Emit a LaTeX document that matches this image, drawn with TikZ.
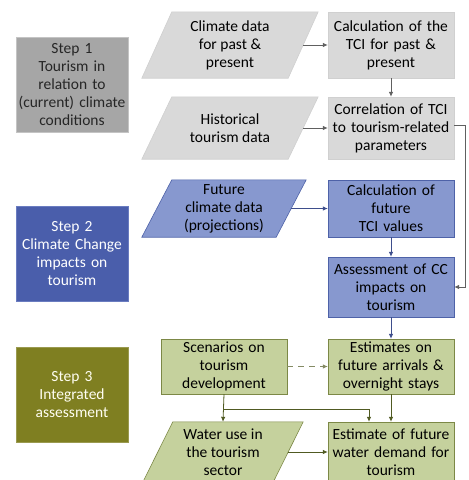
\documentclass[tikz,border=0pt]{standalone}
\usepackage{fontspec}
\setmainfont{Carlito}
\usetikzlibrary{arrows.meta,backgrounds}
\definecolor{gfill}{HTML}{D9D9D9}
\definecolor{gline}{HTML}{D0D0D0}
\definecolor{garr}{HTML}{606060}
\definecolor{bfill}{HTML}{8798CF}
\definecolor{bline}{HTML}{4E62A8}
\definecolor{barr}{HTML}{3E4E8C}
\definecolor{ofill}{HTML}{C5D19D}
\definecolor{oline}{HTML}{7C8846}
\definecolor{oarr}{HTML}{505A22}
\definecolor{sone}{HTML}{A6A6A6}
\definecolor{sonel}{HTML}{C4C4C4}
\definecolor{stwo}{HTML}{4A5EAB}
\definecolor{stwol}{HTML}{6A7CC0}
\definecolor{sthree}{HTML}{7F7F21}
\definecolor{sthreel}{HTML}{9A9A50}
\begin{document}
\begin{tikzpicture}[x=1pt,y=-1pt,
  txt/.style={font=\fontsize{15.5}{18}\selectfont, align=center, inner sep=0pt},
  rbox/.style={txt, draw, minimum width=126pt, text width=124pt},
  pbox/.style={txt, minimum width=146pt},
  stepbox/.style={txt, minimum width=112pt, minimum height=95pt, text width=110pt},
  garrow/.style={draw=garr, line width=0.8pt, -{Latex[length=5pt,width=4.5pt]}},
  barrow/.style={draw=barr, line width=0.8pt, -{Latex[length=5pt,width=4.5pt]}},
  oarrow/.style={draw=oarr, line width=0.8pt, -{Latex[length=5pt,width=4.5pt]}}
]
\useasboundingbox (0,0) rectangle (469,480);
\clip (0,0) rectangle (469,480);

% step boxes
\node[stepbox, fill=sone, draw=sonel, text=black!85] (s1) at (72,85) {Step 1\\Tourism in\\relation to\\(current) climate\\conditions};
\node[stepbox, fill=stwo, draw=stwol, text=white] (s2) at (72,254) {Step 2\\Climate Change\\impacts on\\tourism};
\node[stepbox, fill=sthree, draw=sthreel, text=white!95!yellow] (s3) at (72,394.5) {Step 3\\Integrated\\assessment};

% gray row
\node[pbox, minimum height=66pt] (cd) at (230,45) {Climate data\\for past \&\\present};
\node[rbox, fill=gfill, draw=gline, minimum height=66pt] (tci) at (391,45) {Calculation of the\\TCI for past \&\\present};
\node[pbox, minimum height=62pt] (hist) at (230,128) {Historical\\tourism data};
\node[rbox, fill=gfill, draw=gline, minimum height=62pt] (corr) at (391,128) {Correlation of TCI\\to tourism-related\\parameters};

% blue row
\node[pbox, minimum width=134pt, minimum height=57pt] (fut) at (224,208.5) {Future\\climate data\\(projections)};
\node[rbox, fill=bfill, draw=bline, minimum height=57pt] (cf) at (391,208.5) {Calculation of\\future\\TCI values};
\node[rbox, fill=bfill, draw=bline, minimum height=60pt] (assess) at (391,287) {Assessment of CC\\impacts on\\tourism};

% green row
\node[rbox, fill=ofill, draw=oline, minimum height=55pt] (scen) at (224,366.5) {Scenarios on\\tourism\\development};
\node[rbox, fill=ofill, draw=oline, minimum height=55pt] (est) at (391,366.5) {Estimates on\\future arrivals \&\\overnight stays};
\node[pbox, minimum width=130pt, minimum height=60pt] (water) at (223,452) {Water use in\\the tourism\\sector};
\node[rbox, fill=ofill, draw=oline, minimum height=60pt] (ew) at (391,452) {Estimate of future\\water demand for\\tourism};

% parallelograms behind text
\begin{scope}[on background layer]
\foreach \n/\s/\f/\l in {cd/15/gfill/gline, hist/15/gfill/gline, fut/15/bfill/bline, water/15/ofill/oline}{
  \filldraw[fill=\f, draw=\l, line width=0.6pt]
    ([xshift=\s pt]\n.north west) -- ([xshift=\s pt]\n.north east)
    -- ([xshift=-\s pt]\n.south east) -- ([xshift=-\s pt]\n.south west) -- cycle;
}
\end{scope}

% connectors
\draw[garrow] (cd.east) -- (tci.west);
\draw[garrow] (tci.south) -- (corr.north);
\draw[garrow] (hist.east) -- (corr.west);
\coordinate (cr) at ([xshift=11pt,yshift=3pt]corr.east);
\draw[garrow] ([yshift=3pt]corr.east) -- (cr) |- (assess.east);

\draw[barrow] (fut.east) -- (cf.west);
\draw[barrow] (cf.south) -- (assess.north);
\draw[barrow] (assess.south) -- (est.north);

\draw[oarrow, draw=oarr!70, dash pattern=on 6pt off 5pt] (scen.east) -- (est.west);
\draw[oarrow] (scen.south) -- (water.north);
\coordinate (br) at ([yshift=-15pt]scen.south);
\draw[oarrow] (br) -| ([xshift=-22pt]ew.north);
\draw[oarrow] (est.south) -- (ew.north);
\draw[oarrow] (water.east) -- (ew.west);
\end{tikzpicture}
\end{document}
